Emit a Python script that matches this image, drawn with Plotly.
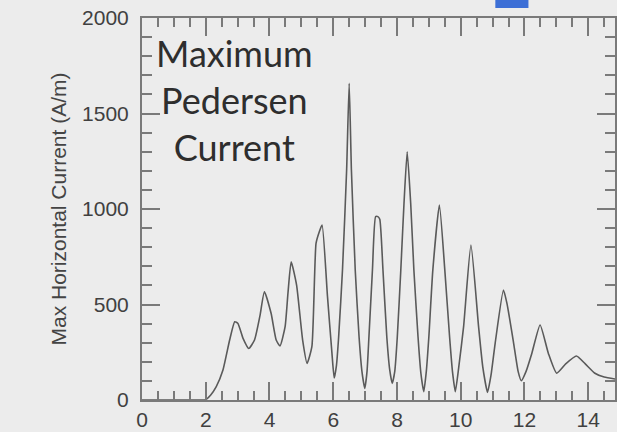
import plotly.graph_objects as go

# Data
time_x = [0, 1.9, 2.0, 2.15, 2.33, 2.54, 2.75, 2.91, 3.01, 3.17, 3.35, 3.53, 3.7, 3.84,
          4.05, 4.21, 4.33, 4.49, 4.58, 4.68, 4.85, 5.04, 5.18, 5.33, 5.46, 5.56, 5.65,
          5.82, 5.96, 6.03, 6.1, 6.17, 6.29, 6.42, 6.5, 6.57, 6.69, 6.81, 6.9, 6.99,
          7.06, 7.12, 7.23, 7.33, 7.4, 7.46, 7.56, 7.68, 7.77, 7.85, 7.93, 8.01, 8.12,
          8.22, 8.32, 8.43, 8.53, 8.66, 8.75, 8.84, 8.92, 9.0, 9.125, 9.33, 9.5, 9.65,
          9.74, 9.83, 9.94, 10.09, 10.32, 10.56, 10.69, 10.84, 10.95, 11.08, 11.34,
          11.45, 11.66, 11.8, 11.9, 12.05, 12.23, 12.49, 12.75, 13.01, 13.3, 13.63,
          13.9, 14.21, 14.5, 14.85]
max_current = [0, 0, 2, 25, 70, 157, 314, 410, 401, 323, 270, 314, 440, 567,
               454, 314, 283, 384, 560, 724, 602, 314, 192, 279, 820, 880, 916,
               541, 244, 115, 180, 331, 681, 1204, 1658, 1204, 681, 331, 150, 61,
               150, 331, 681, 960, 960, 946, 681, 331, 160, 87, 150, 331, 681,
               1030, 1300, 1030, 681, 331, 140, 44, 150, 331, 681, 1021, 681, 331,
               150, 44, 175, 384, 811, 384, 175, 40, 130, 297, 576,
               506, 297, 150, 101, 150, 244, 393, 244, 140, 190, 230,
               190, 140, 120, 110]

x_ticks = [0, 2, 4, 6, 8, 10, 12, 14]
y_ticks = [0, 500, 1000, 1500, 2000]
y_title = "Max Horizontal Current (A/m)"
note_text = "Maximum<br>Pedersen<br>Current"

bg = "#ececec"
axis_col = "#7a7a7a"

fig = go.Figure()
fig.add_trace(go.Scatter(
    x=time_x, y=max_current, mode="lines",
    line=dict(color="#5a5a5a", width=1.6, shape="spline", smoothing=0.5),
    showlegend=False, hoverinfo="skip",
))

fig.add_annotation(
    x=2.9, y=1570, xref="x", yref="y", text=note_text, showarrow=False,
    font=dict(family="Lato", size=36, color="#2e2e2e"),
    xanchor="center", yanchor="middle", align="center",
)

# small blue mark at the top (screen artifact in the reference)
fig.add_shape(type="rect", xref="paper", yref="paper",
              x0=0.747, x1=0.817, y0=1.026, y1=1.06,
              fillcolor="#3d6fd6", line=dict(width=0), layer="above")

axis_common = dict(
    showline=True, linecolor=axis_col, linewidth=2, mirror="allticks",
    ticks="inside", ticklen=18, tickwidth=2, tickcolor=axis_col,
    showgrid=False, zeroline=False,
    tickfont=dict(family="Liberation Sans", size=21, color="#404040"),
)

fig.update_xaxes(
    range=[0, 14.84], tickvals=x_ticks, ticktext=[str(v) for v in x_ticks],
    minor=dict(ticks="inside", dtick=0.5, ticklen=9, tickwidth=2, tickcolor=axis_col),
    **axis_common,
)
fig.update_yaxes(
    range=[0, 2000], tickvals=y_ticks, ticktext=[str(v) for v in y_ticks],
    minor=dict(ticks="inside", dtick=100, ticklen=10, tickwidth=2, tickcolor=axis_col),
    title=dict(text=y_title, font=dict(family="Liberation Sans", size=21, color="#444444"),
               standoff=10),
    ticklabelstandoff=7,
    **axis_common,
)

fig.update_layout(
    width=617, height=432,
    margin=dict(l=142, r=0, t=18, b=32, pad=0),
    paper_bgcolor=bg, plot_bgcolor=bg,
)

fig.write_html("out.html")
